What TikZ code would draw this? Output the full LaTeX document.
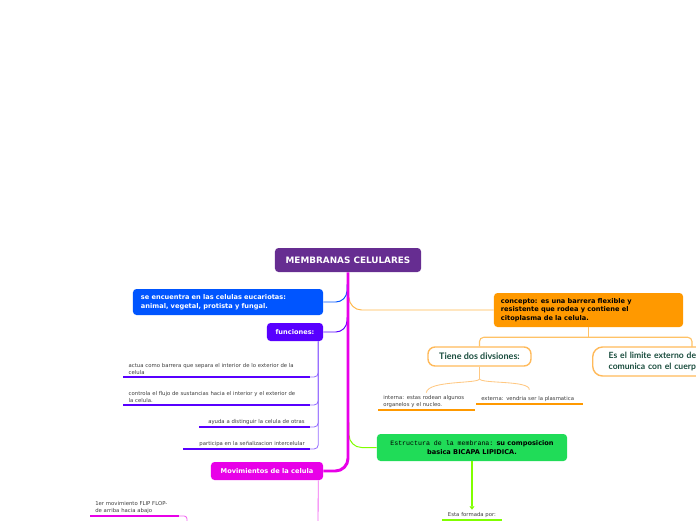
\documentclass[tikz,border=0pt]{standalone}
\usepackage{fontspec}
\setmainfont{DejaVu Sans}
\newfontfamily\monofam{Liberation Mono}
\newfontfamily\latofam{Lato}
\usetikzlibrary{arrows.meta,positioning,calc}
\definecolor{membpurple}{RGB}{102,45,145}
\definecolor{eucblue}{RGB}{0,85,255}
\definecolor{funcviolet}{RGB}{88,0,255}
\definecolor{functhin}{RGB}{150,110,255}
\definecolor{movmagenta}{RGB}{232,0,232}
\definecolor{conorange}{RGB}{255,153,0}
\definecolor{orthin}{RGB}{255,200,130}
\definecolor{estgreen}{RGB}{32,220,88}
\definecolor{limeline}{RGB}{128,255,0}
\definecolor{tealtext}{RGB}{26,77,62}
\definecolor{leafgray}{RGB}{60,60,60}

\begin{document}
\begin{tikzpicture}[x=0.025cm, y=-0.025cm, >=Latex,
  every node/.style={inner sep=0pt},
  topic/.style={rounded corners=2.5pt, text=white, font=\fontsize{4.7}{6.2}\selectfont\bfseries},
  leaf/.style={font=\fontsize{3.8}{5.1}\selectfont, text=leafgray, align=left, inner xsep=5*0.025cm, inner ysep=1.6pt},
  uline/.style={line width=2pt},
  thin/.style={line width=0.6pt, rounded corners=3pt}]
\useasboundingbox (0,0) rectangle (696,520);
\clip (0,0) rectangle (696,520);

\node[topic,fill=membpurple,minimum width=3.65cm,minimum height=0.6cm,font=\fontsize{6.3}{7}\selectfont\bfseries] (title) at (348,260) {MEMBRANAS CELULARES};
\node[topic,fill=eucblue,minimum width=4.75cm,minimum height=0.65cm,text width=4.35cm,align=left] (eucar) at (228,302) {se encuentra en las celulas eucariotas:\\animal, vegetal, protista y fungal.};
\node[topic,fill=funcviolet,minimum width=1.4cm,minimum height=0.45cm] (func) at (295,332) {funciones:};
\node[topic,fill=movmagenta,minimum width=2.8cm,minimum height=0.45cm] (movim) at (267,471) {Movimientos de la celula};
\node[topic,fill=conorange,text=black,minimum width=4.725cm,minimum height=0.85cm,text width=4.375cm,align=left] (concepto) at (588.5,310) {concepto: es una barrera flexible y\\resistente que rodea y contiene el\\citoplasma de la celula.};
\node[draw=orthin!70!conorange,line width=1pt,rounded corners=5pt,fill=white,minimum width=2.575cm,minimum height=0.475cm,font=\latofam\fontsize{6.4}{7}\selectfont\bfseries,text=tealtext] (tiene) at (479.5,356.5) {Tiene dos divsiones:};
\node[draw=orthin!70!conorange,line width=1pt,rounded corners=7pt,fill=white,minimum width=5cm,minimum height=0.725cm,inner xsep=0.4cm,text width=4.2cm,align=left,font=\latofam\fontsize{6.1}{7.4}\selectfont\bfseries,text=tealtext,anchor=west] (limite) at (592,361.5) {Es el limite externo de\\comunica con el cuerp};
\node[topic,fill=estgreen,text=black,minimum width=4.75cm,minimum height=0.675cm,align=center] (estruct) at (472,447.5) {{\monofam\mdseries Estructura de la membrana:} su composicion\\basica BICAPA LIPIDICA.};

\node[leaf,text width=4.4cm,anchor=south east] (a1) at (310,377) {actua como barrera que separa el interior de lo exterior de la\\celula};
\node[leaf,text width=4.4cm,anchor=south east] (a2) at (310,405) {controla el flujo de sustancias hacia el interior y el exterior de\\la celula.};
\node[leaf,align=right,text width=2.5cm,anchor=south east] (a3) at (310,427) {ayuda a distinguir la celula de otras};
\node[leaf,align=right,text width=2.9cm,anchor=south east] (a4) at (310,449) {participa en la señalizacion intercelular};
\node[leaf,text width=2.15cm,anchor=south west] (b1) at (378,410) {interna: estas rodean algunos\\organelos y el nucleo.};
\node[leaf,text width=2.4cm,anchor=south west] (b2) at (476,404) {externa: vendria ser la plasmatica};
\node[leaf,align=center,text width=1.25cm,anchor=south] (esta) at (472,520) {Esta formada por:};
\node[leaf,text width=1.95cm,anchor=south west] (m1) at (90,516) {1er movimiento FLIP FLOP-\\de arriba hacia abajo};

\coordinate (fb) at ($(func.south east)+(-5,0)$);
\coordinate (mb) at ($(movim.south east)+(-5,0)$);
\coordinate (mend) at (318,522);
\coordinate (m1end) at (187,522);
\coordinate (ob) at ($(concepto.south)+(0,10)$);
\coordinate (tb) at ($(tiene.south)+(0,12)$);
\coordinate (lt) at (692,347);

\draw[eucblue,line width=0.7pt,rounded corners=8pt] ($(title.south)+(-1,12)$) |- (eucar.east);
\draw[funcviolet,line width=0.7pt,rounded corners=8pt] ($(title.south)+(-1,45)$) |- (func.east);
\draw[conorange!70,line width=0.7pt,rounded corners=9pt] ($(title.south)+(1,25)$) |- (concepto.west);
\draw[limeline,line width=0.7pt,rounded corners=9pt] ($(title.south)+(1,150)$) |- (estruct.west);
\draw[movmagenta,line width=2.1pt,rounded corners=9pt] (title.south) |- (movim.east);

\foreach \n in {a1,a2,a3,a4}
  \draw[functhin,thin] (fb) |- (\n.south east);
\foreach \n in {a1,a2,a3,a4}
  \draw[funcviolet,uline] (\n.south west) -- (\n.south east);

\draw[conorange!60,line width=0.8pt] (concepto.south) -- (ob);
\draw[conorange!60,line width=0.8pt,rounded corners=3pt] (tiene.north) |- (ob) -| (lt);
\draw[orthin,line width=0.6pt] (tiene.south) -- (tb);
\draw[orthin,line width=0.6pt] (tb) .. controls (480,384) and (428,380) .. (b1.north);
\draw[orthin,line width=0.6pt] (tb) .. controls (480,384) and (530,380) .. ($(b2.north)+(0,-4)$);
\draw[conorange,uline] (b1.south west) -- (b1.south east);
\draw[conorange,uline] (b2.south west) -- (b2.south east);

\draw[limeline,line width=0.8pt,-{Triangle[width=3.5pt,length=2.5pt]}] (estruct.south) -- (esta.north);
\draw[limeline,line width=1.5pt] (esta.south west) -- (esta.south east);

\draw[movmagenta!60,line width=0.6pt] (mb) -- (mend);
\draw[movmagenta!60,thin,rounded corners=2pt] (m1.south east) -| (m1end);
\draw[movmagenta,uline] (m1.south west) -- (m1.south east);
\end{tikzpicture}
\end{document}
